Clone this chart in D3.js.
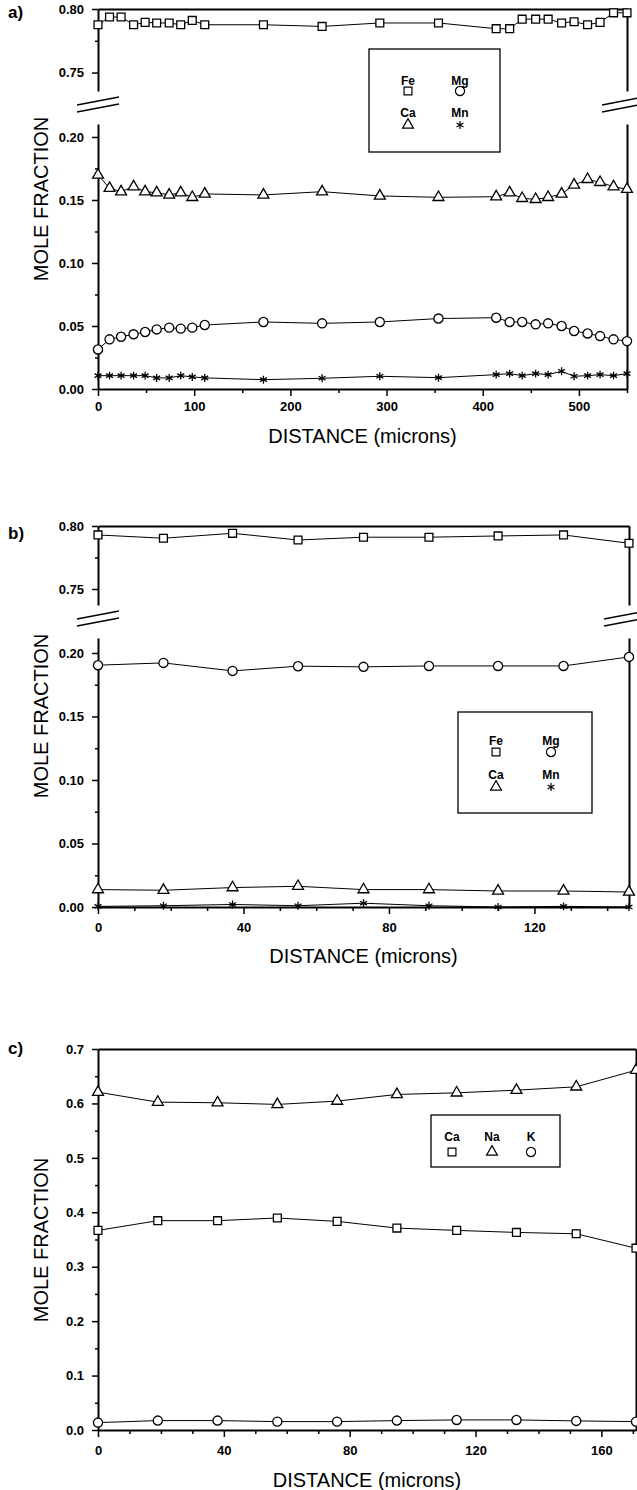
<!DOCTYPE html>
<html lang="en">
<head>
<meta charset="utf-8">
<script src="https://d3js.org/d3.v7.min.js"></script>
<style>
  *{margin:0;padding:0}
  body{background:#fff;width:637px;height:1490px;overflow:hidden}
  svg{display:block}
  .tick text{font-family:'Liberation Sans',Arial,sans-serif;font-weight:bold;font-size:13px;fill:#000}
  .title{font-family:'Liberation Sans',Arial,sans-serif;font-size:20px;fill:#000}
  .leg{font-family:'Liberation Sans',Arial,sans-serif;font-weight:bold;font-size:12px;fill:#000}
  .tag{font-family:'Liberation Sans',Arial,sans-serif;font-weight:bold;font-size:17px;fill:#000}
</style>
</head>
<body>
<script>
// ---- panel a : garnet traverse ----
const distA=[0,12,24,37,49,61,74,86,98,111,172,233,293,354,414,428,441,455,468,482,495,509,522,536,550];
const feA=[0.7876,0.7937,0.7937,0.7876,0.7895,0.789,0.789,0.7876,0.791,0.7876,0.7876,0.7863,0.789,0.789,0.7845,0.7845,0.792,0.792,0.792,0.789,0.790,0.7876,0.7895,0.797,0.797];
const mgA=[0.0314,0.0394,0.0415,0.0434,0.0452,0.0473,0.0487,0.0479,0.0487,0.0508,0.0532,0.0521,0.0532,0.0559,0.0566,0.0532,0.0532,0.0513,0.0521,0.050,0.046,0.0441,0.042,0.0394,0.038];
const caA=[0.1698,0.1593,0.1566,0.1606,0.1566,0.1558,0.154,0.1558,0.1521,0.1548,0.154,0.1566,0.1532,0.1521,0.1526,0.1558,0.1513,0.1505,0.1521,0.1548,0.1619,0.1664,0.164,0.1606,0.1585];
const mnA=[0.0106,0.0106,0.0106,0.0106,0.0106,0.0088,0.0088,0.0106,0.0096,0.0088,0.0074,0.0085,0.0101,0.009,0.0114,0.0122,0.0106,0.0122,0.0114,0.0141,0.0101,0.0106,0.0114,0.0106,0.0122];

// ---- panel b ----
const distB=[0,18,37,55,73,91,110,128,146];
const feB=[0.7929,0.7903,0.7942,0.7889,0.7911,0.7911,0.7921,0.7929,0.7863];
const mgB=[0.1904,0.1922,0.1859,0.1896,0.1891,0.1898,0.1898,0.1898,0.1969];
const caB=[0.0137,0.0132,0.0153,0.0163,0.0137,0.0137,0.0126,0.0126,0.0118];
const mnB=[0.0005,0.001,0.002,0.001,0.003,0.001,0.0,0.0005,0.0];

// ---- panel c : plagioclase ----
const distC=[0,19,38,57,76,95,114,133,152,171];
const caC=[0.3667,0.3846,0.3846,0.3895,0.3833,0.371,0.3667,0.363,0.3605,0.334];
const naC=[0.6207,0.6024,0.6012,0.5982,0.6043,0.6165,0.6195,0.6244,0.6305,0.661];
const kC=[0.0136,0.0173,0.0173,0.0154,0.0154,0.0173,0.0185,0.0185,0.0167,0.0154];

const xTicksA=[0,100,200,300,400,500];
const xTicksB=[0,40,80,120];
const xTicksC=[0,40,80,120,160];

const svg=d3.select('body').append('svg').attr('width',637).attr('height',1490);

const symbols={square:d3.symbolSquare,circle:d3.symbolCircle,triangle:d3.symbolTriangle,star:d3.symbolAsterisk};
const symSize={square:62,circle:66,triangle:52,star:44};

const panels=[
  {tag:'a)',tagY:12,left:98,right:627,top:9,bottom:389,xMax:550,
   xTicks:xTicksA,xMinor:d3.range(50,551,100),xPad:6,
   upper:{domain:[0.80,0.7355],range:[9,91],ticks:[0.75,0.80],minor:[0.775]},
   lower:{domain:[0.2103,0],range:[124,389],ticks:[0,0.05,0.10,0.15,0.20],minor:[0.025,0.075,0.125,0.175]},
   fmt:d3.format('.2f'),
   series:[{x:distA,v:feA,s:'square'},{x:distA,v:caA,s:'triangle'},{x:distA,v:mgA,s:'circle'},{x:distA,v:mnA,s:'star'}],
   legend:{x:369,y:49,w:131,h:103,cols:[39,91],rows:[[32,42],[64,76]],
     items:[['Fe','square',0,0],['Mg','circle',1,0],['Ca','triangle',0,1],['Mn','star',1,1]]},
   titleY:199,distY:436},
  {tag:'b)',tagY:533,left:98,right:629,top:526,bottom:907,xMax:146,
   xTicks:xTicksB,xMinor:d3.range(10,146,10).filter(d=>d%40),xPad:9,
   upper:{domain:[0.80,0.7373],range:[526,605],ticks:[0.75,0.80],minor:[0.775]},
   lower:{domain:[0.2118,0],range:[638,907],ticks:[0,0.05,0.10,0.15,0.20],minor:[0.025,0.075,0.125,0.175]},
   fmt:d3.format('.2f'),
   series:[{x:distB,v:feB,s:'square'},{x:distB,v:mgB,s:'circle'},{x:distB,v:caB,s:'triangle'},{x:distB,v:mnB,s:'star'}],
   legend:{x:458,y:712,w:134,h:101,cols:[38,93],rows:[[29,40],[63,75]],
     items:[['Fe','square',0,0],['Mg','circle',1,0],['Ca','triangle',0,1],['Mn','star',1,1]]},
   titleY:716,distY:956},
  {tag:'c)',tagY:1048,left:98,right:636,top:1049,bottom:1430,xMax:171,
   xTicks:xTicksC,xMinor:d3.range(10,171,10).filter(d=>d%40),xPad:9,
   lower:{domain:[0.7,0],range:[1049,1430],ticks:d3.range(0,0.71,0.1),minor:d3.range(0.05,0.7,0.1)},
   fmt:d3.format('.1f'),
   series:[{x:distC,v:naC,s:'triangle'},{x:distC,v:caC,s:'square'},{x:distC,v:kC,s:'circle'}],
   legend:{x:431,y:1115,w:129,h:52,cols:[21,61,100],rows:[[22,37]],
     items:[['Ca','square',0,0],['Na','triangle',1,0],['K','circle',2,0]]},
   titleY:1240,distY:1480}
];

function styleAxis(s,keepDomain){
  s.select('.domain').attr('stroke','#000').attr('stroke-width',keepDomain?2:0);
  s.selectAll('.tick line').attr('stroke','#000').attr('stroke-width',1.5);
}

function drawPanel(p){
  const g=svg.append('g');
  const x=d3.scaleLinear().domain([0,p.xMax]).range([p.left,p.right]);
  const yUp=p.upper?d3.scaleLinear().domain(p.upper.domain).range(p.upper.range):null;
  const yLow=d3.scaleLinear().domain(p.lower.domain).range(p.lower.range);
  const y=v=>(yUp&&v>0.5)?yUp(v):yLow(v);

  // top border and x axis
  g.append('g').attr('transform',`translate(0,${p.top})`)
    .call(d3.axisTop(x).tickValues([]).tickSizeOuter(0)).call(s=>styleAxis(s,true));
  g.append('g').attr('transform',`translate(0,${p.bottom})`)
    .call(d3.axisBottom(x).tickValues(p.xTicks).tickSize(7).tickSizeOuter(0).tickPadding(p.xPad))
    .call(s=>styleAxis(s,true));
  g.append('g').attr('transform',`translate(0,${p.bottom})`)
    .call(d3.axisBottom(x).tickValues(p.xMinor).tickSize(4).tickFormat(''))
    .call(s=>styleAxis(s,false));

  // y axis segments
  const segs=p.upper?[p.upper,p.lower]:[p.lower];
  segs.forEach(sg=>{
    const sc=d3.scaleLinear().domain(sg.domain).range(sg.range);
    g.append('g').attr('transform',`translate(${p.left},0)`)
      .call(d3.axisLeft(sc).tickValues(sg.ticks).tickSize(6).tickSizeOuter(0).tickPadding(8).tickFormat(p.fmt))
      .call(s=>styleAxis(s,true));
    g.append('g').attr('transform',`translate(${p.left},0)`)
      .call(d3.axisLeft(sc).tickValues(sg.minor).tickSize(3).tickFormat(''))
      .call(s=>styleAxis(s,false));
    g.append('g').attr('transform',`translate(${p.right},0)`)
      .call(d3.axisRight(sc).tickValues([]).tickSizeOuter(0))
      .call(s=>styleAxis(s,true));
  });

  // break marks
  if(p.upper){
    const gy=(p.upper.range[1]+p.lower.range[0])/2;
    [[p.left,-3],[p.right-4,-3]].forEach(([cx,off])=>{
      [-3.5,3.5].forEach(dy=>{
        g.append('line').attr('x1',cx-21).attr('x2',cx+21)
          .attr('y1',gy+off+dy+4).attr('y2',gy+off+dy-4)
          .attr('stroke','#000').attr('stroke-width',1.4);
      });
    });
  }

  // series
  p.series.forEach(sr=>{
    const pts=sr.v.map((v,i)=>[x(sr.x[i]),y(v)]);
    g.append('path').attr('d',d3.line()(pts)).attr('fill','none').attr('stroke','#000').attr('stroke-width',1);
    g.selectAll(null).data(pts).join('path')
      .attr('transform',d=>`translate(${d[0]},${d[1]})`)
      .attr('d',d3.symbol().type(symbols[sr.s]).size(symSize[sr.s]))
      .attr('fill',sr.s==='star'?'none':'#fff').attr('stroke','#000').attr('stroke-width',1.3);
  });

  // legend
  const L=p.legend;
  const lg=g.append('g').attr('transform',`translate(${L.x},${L.y})`);
  lg.append('rect').attr('width',L.w).attr('height',L.h).attr('fill','#fff').attr('stroke','#000').attr('stroke-width',1.3);
  L.items.forEach(([name,s,c,r])=>{
    lg.append('text').attr('class','leg').attr('x',L.cols[c]).attr('y',L.rows[r][0])
      .attr('text-anchor','middle').attr('dominant-baseline','central').text(name);
    lg.append('path').attr('transform',`translate(${L.cols[c]},${L.rows[r][1]})`)
      .attr('d',d3.symbol().type(symbols[s]).size(symSize[s]))
      .attr('fill','none').attr('stroke','#000').attr('stroke-width',1.2);
  });

  // titles
  g.append('text').attr('class','tag').attr('x',8).attr('y',p.tagY).attr('dominant-baseline','central').text(p.tag);
  g.append('text').attr('class','title').attr('text-anchor','middle').attr('dominant-baseline','central')
    .attr('transform',`translate(41,${p.titleY}) rotate(-90)`).text('MOLE FRACTION');
  g.append('text').attr('class','title').attr('text-anchor','middle').attr('dominant-baseline','central')
    .attr('x',(p.left+p.right)/2).attr('y',p.distY).text('DISTANCE (microns)');
}

panels.forEach(drawPanel);
</script>
</body>
</html>
